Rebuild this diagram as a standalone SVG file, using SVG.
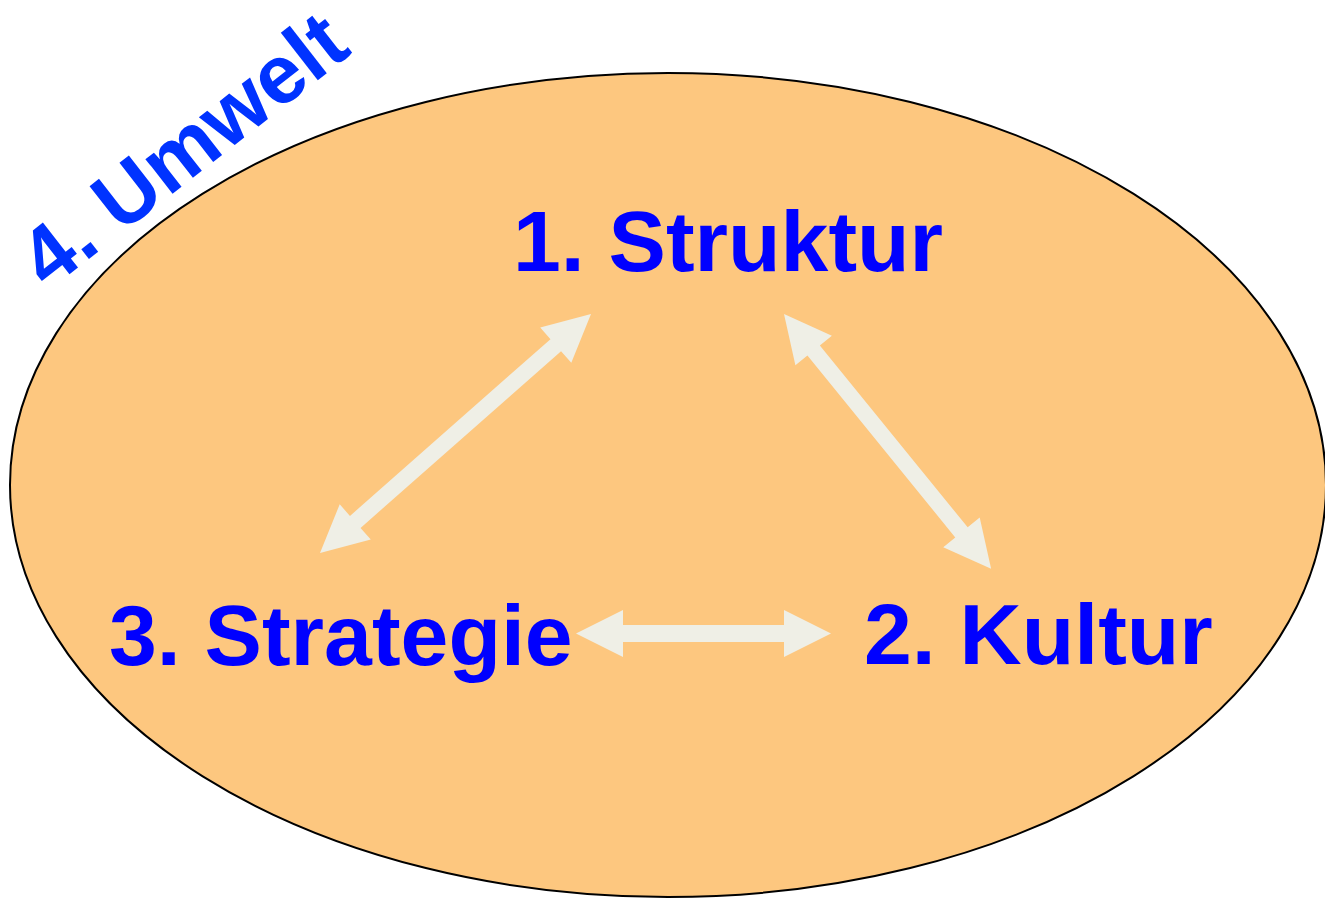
<svg xmlns="http://www.w3.org/2000/svg" width="1325" height="900" viewBox="0 0 1325 900">
<style>
.lbl{font-family:"Liberation Sans",Arial,sans-serif;font-weight:bold;font-size:86px;fill:#0000FF}
.env{font-family:"Liberation Sans",Arial,sans-serif;font-weight:bold;font-size:83px;fill:#0033FF}
.arr{fill:#EFEFE6}
</style>
<rect width="1325" height="900" fill="#FFFFFF"/>
<g id="umwelt">
<ellipse cx="668" cy="485" rx="658" ry="412" fill="#FDC77F" stroke="#000000" stroke-width="2"/>
<text class="env" transform="translate(48,291) rotate(-38)">4. Umwelt</text>
</g>
<g id="connectors">
<polygon class="arr" transform="translate(320,553) rotate(-41.4)" points="0,0 47,-23.5 47,-8 314.3,-8 314.3,-23.5 361.3,0 314.3,23.5 314.3,8 47,8 47,23.5"/>
<polygon class="arr" transform="translate(784,314) rotate(50.9)" points="0,0 47,-23.5 47,-8 281.4,-8 281.4,-23.5 328.4,0 281.4,23.5 281.4,8 47,8 47,23.5"/>
<polygon class="arr" transform="translate(576,633.5) rotate(0)" points="0,0 47,-23.5 47,-8.5 208,-8.5 208,-23.5 255,0 208,23.5 208,8.5 47,8.5 47,23.5"/>
</g>
<g id="struktur"><text class="lbl" x="513" y="271">1. Struktur</text></g>
<g id="kultur"><text class="lbl" x="864" y="664">2. Kultur</text></g>
<g id="strategie"><text class="lbl" x="109" y="665">3. Strategie</text></g>
</svg>
